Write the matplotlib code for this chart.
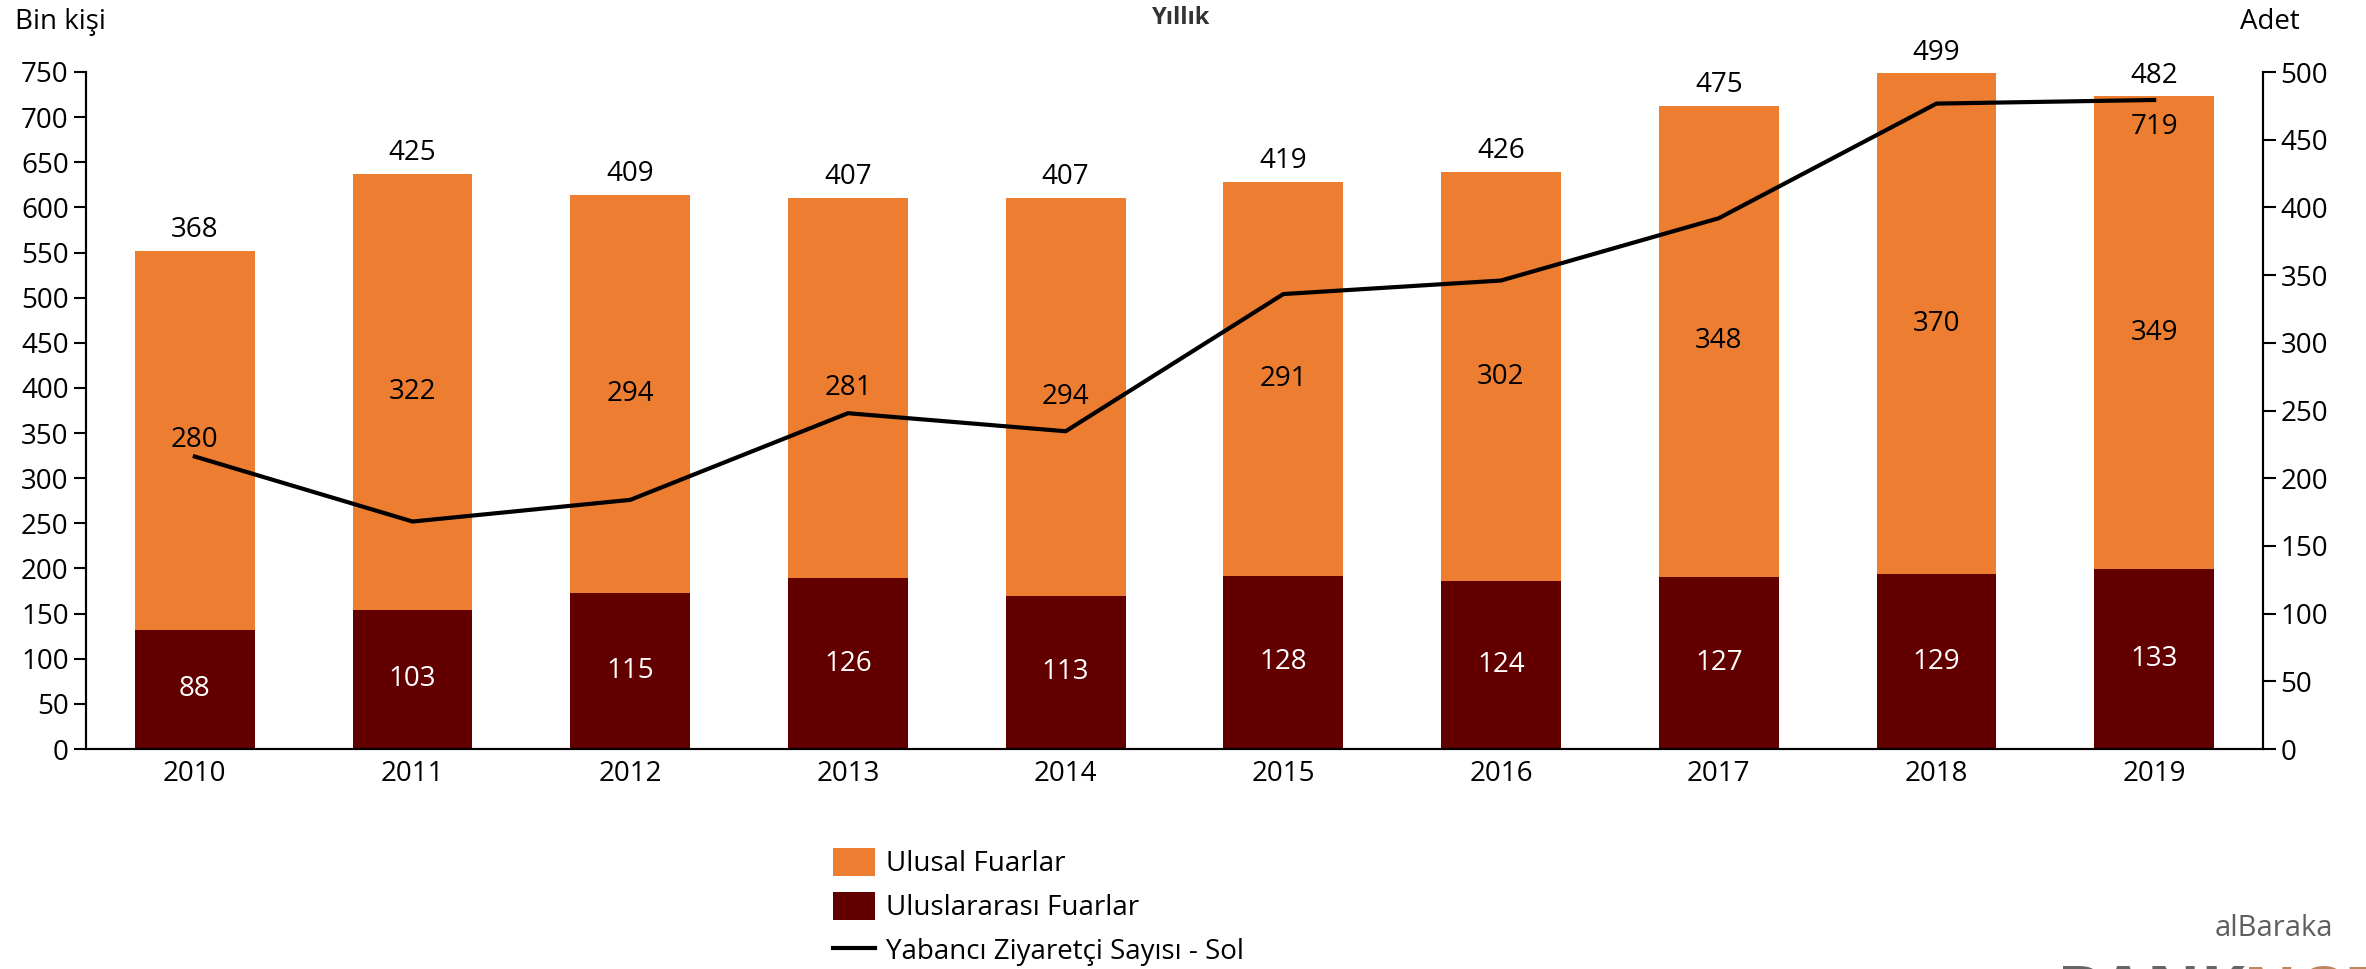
import matplotlib.pyplot as plt
import numpy as np

plt.rcParams['font.family'] = ['Open Sans', 'DejaVu Sans']

years = ['2010', '2011', '2012', '2013', '2014', '2015', '2016', '2017', '2018', '2019']
# adet (right axis)
ulusal = [280, 322, 294, 281, 294, 291, 302, 348, 370, 349]
uluslararasi = [88, 103, 115, 126, 113, 128, 124, 127, 129, 133]
# bin kisi (left axis)
ziyaretci = [324, 252, 276, 372, 352, 504, 519, 588, 715, 719]

orange = '#ED7D31'
darkred = '#620000'
fs = 20

fig = plt.figure(figsize=(23.66, 9.69), dpi=100)
axl = fig.add_axes([86/2366, 1 - 749/969, (2263-86)/2366, (749-72)/969])
axr = axl.twinx()

x = np.arange(len(years))
totals = [a + b for a, b in zip(ulusal, uluslararasi)]

# bars on the right axis
b1 = axr.bar(x, uluslararasi, width=0.55, color=darkred, label='Uluslararası Fuarlar')
b2 = axr.bar(x, ulusal, width=0.55, bottom=uluslararasi, color=orange, label='Ulusal Fuarlar')
for i in range(len(years)):
    axr.text(x[i], uluslararasi[i] / 2, str(uluslararasi[i]), ha='center', va='center',
             color='white', fontsize=fs)
    axr.text(x[i], uluslararasi[i] + ulusal[i] / 2, str(ulusal[i]), ha='center', va='center',
             color='black', fontsize=fs)
    axr.text(x[i], totals[i] + 5, str(totals[i]), ha='center', va='bottom',
             color='black', fontsize=fs)

# line on the left axis, drawn above bars
axl.set_zorder(axr.get_zorder() + 1)
axl.patch.set_visible(False)
ln, = axl.plot(x, ziyaretci, color='black', lw=3, label='Yabancı Ziyaretçi Sayısı - Sol')
axl.text(x[-1], ziyaretci[-1] - 14, str(ziyaretci[-1]), ha='center', va='top', fontsize=fs)

axl.set_xlim(-0.5, 9.5)
axl.set_ylim(0, 750)
axl.set_yticks(np.arange(0, 751, 50))
axr.set_ylim(0, 500)
axr.set_yticks(np.arange(0, 501, 50))
axl.set_xticks(x)
axl.set_xticklabels(years)

for ax in (axl, axr):
    ax.spines['top'].set_visible(False)
    for s in ax.spines.values():
        s.set_linewidth(1.5)
    ax.tick_params(labelsize=fs, width=1.5, length=9)
axl.tick_params(axis='x', length=0, pad=8)

fig.text(15/2366, 1 - 22/969, 'Bin kişi', fontsize=fs, va='center', ha='left')
fig.text(2300/2366, 1 - 22/969, 'Adet', fontsize=fs, va='center', ha='right')
fig.text(1181/2366, 1 - 18/969, 'Yıllık', fontsize=fs - 3, va='center', ha='center',
         fontweight='bold', color='#333333')

fig.legend(handles=[b2, b1, ln], loc='upper left', bbox_to_anchor=(833/2366, 1 - 848/969),
           frameon=False, fontsize=fs, handlelength=1.5, handleheight=1.15,
           handletextpad=0.4, labelspacing=0.5, borderpad=0, borderaxespad=0)

# logo, cut off at the bottom edge like the source
fig.text(2333/2366, 1 - 928/969, 'alBaraka', fontsize=21, color='#5f5f5f',
         ha='right', va='center')
fig.text(2057/2366, 1 - 962/969, 'BANK', fontsize=48, color='#666666',
         ha='left', va='top', fontweight='bold')
fig.text(2243/2366, 1 - 962/969, 'NOT', fontsize=48, color='#b9865f',
         ha='left', va='top', fontweight='bold')

fig.savefig('out.png', dpi=100)
